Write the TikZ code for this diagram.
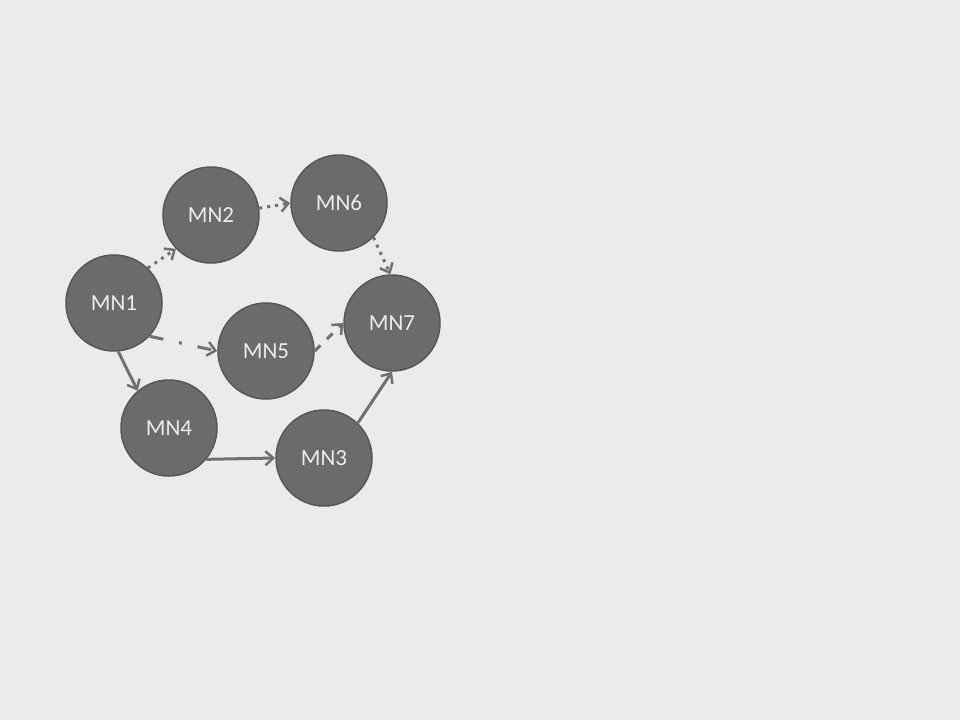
\documentclass[tikz,border=0pt]{standalone}
\usepackage{fontspec}
\setmainfont{Carlito}
\usetikzlibrary{arrows.meta}
\definecolor{bgc}{HTML}{EBEBEB}
\definecolor{nodefill}{HTML}{6B6B6B}
\definecolor{nodeline}{HTML}{575757}
\definecolor{edgec}{HTML}{707070}
\definecolor{txtc}{HTML}{EDEDED}
\tikzset{
  mnode/.style={circle, minimum size=96pt, inner sep=0pt, fill=nodefill, draw=nodeline, line width=1.5pt, text=txtc, font=\fontsize{23}{23}\selectfont},
  edge/.style={draw=edgec, line width=3pt, -{Straight Barb[length=8pt,width=14pt,line width=2.5pt]}},
  dotedge/.style={edge, dash pattern=on 3pt off 5pt},
}
\begin{document}
\begin{tikzpicture}[x=1pt,y=-1pt]
\fill[bgc] (0,0) rectangle (960,720);
\useasboundingbox (0,0) rectangle (960,720);
\node[mnode] (mn1) at (114,303) {MN1};
\node[mnode] (mn2) at (211,215) {MN2};
\node[mnode] (mn6) at (339,203) {MN6};
\node[mnode] (mn7) at (392,323) {MN7};
\node[mnode] (mn5) at (266,351) {MN5};
\node[mnode] (mn4) at (169,428) {MN4};
\node[mnode] (mn3) at (324,458) {MN3};
\draw[dotedge] (mn1.46) -- (mn2.224);
\draw[dotedge] (mn2.8) -- (mn6.180);
\draw[dotedge] (mn6.-45) -- (mn7.92);
\draw[edge, dash pattern=on 14pt off 16pt on 3pt off 16pt] (mn1.-43) -- (mn5.180);
\draw[edge, dash pattern=on 8pt off 9pt] (mn5.0) -- (mn7.180);
\draw[edge] (mn1.-85) -- (mn4.130);
\draw[edge] (mn4.-40) -- (mn3.180);
\draw[edge] (mn3.46) -- (mn7.-90);
\end{tikzpicture}
\end{document}
